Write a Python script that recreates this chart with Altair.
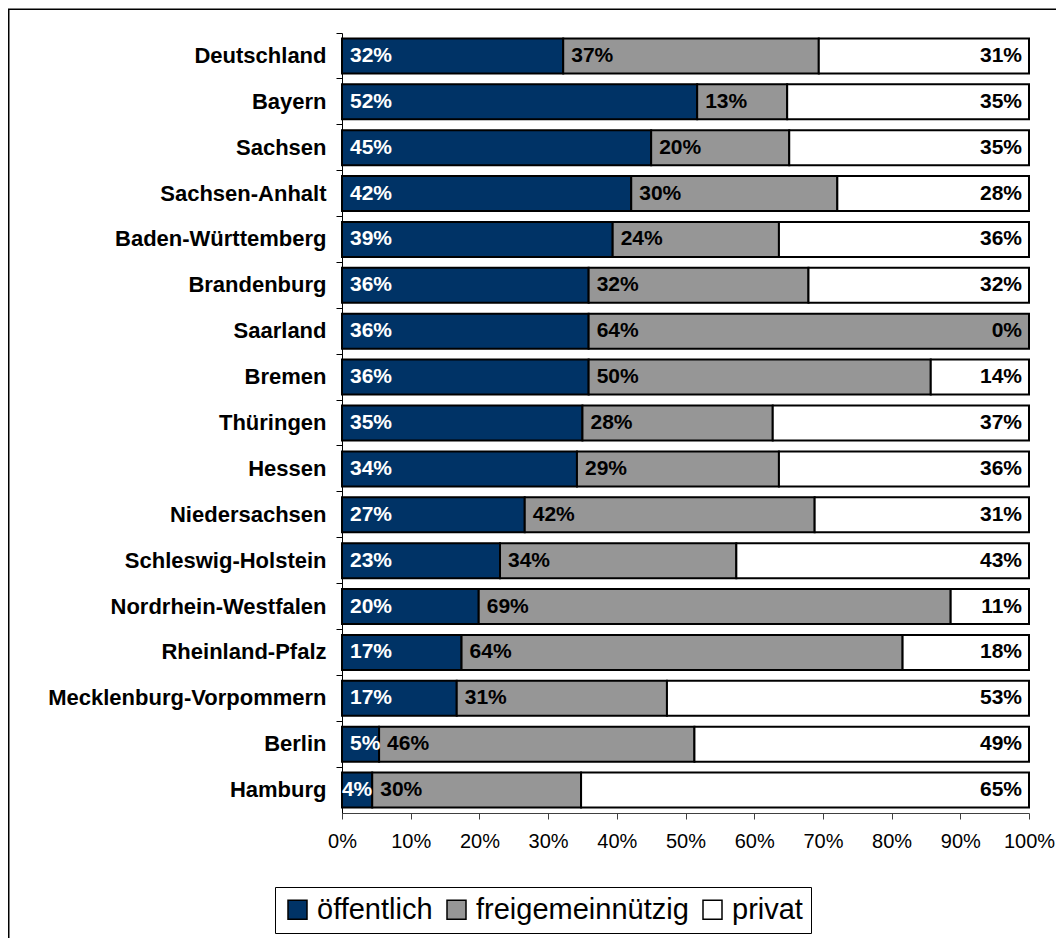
import altair as alt
import pandas as pd

laender = ["Deutschland", "Bayern", "Sachsen", "Sachsen-Anhalt", "Baden-Württemberg",
           "Brandenburg", "Saarland", "Bremen", "Thüringen", "Hessen", "Niedersachsen",
           "Schleswig-Holstein", "Nordrhein-Westfalen", "Rheinland-Pfalz",
           "Mecklenburg-Vorpommern", "Berlin", "Hamburg"]
oeffentlich = [32.2, 51.7, 45.0, 42.1, 39.4, 35.9, 35.9, 35.9, 35.0, 34.2, 26.6, 23.0, 19.9, 17.4, 16.7, 5.4, 4.4]
freigemeinnuetzig = [37.2, 13.1, 20.1, 30.0, 24.2, 32.0, 64.1, 49.8, 27.7, 29.4, 42.2, 34.4, 68.7, 64.2, 30.6, 45.9, 30.4]
privat = [30.6, 35.2, 34.9, 27.9, 36.4, 32.1, 0.0, 14.3, 37.3, 36.4, 31.2, 42.6, 11.4, 18.4, 52.7, 48.7, 65.2]
serien = ["öffentlich", "freigemeinnützig", "privat"]
farben = ["#003366", "#969696", "#ffffff"]
x_ticks = list(range(0, 101, 10))

rows = []
for i, land in enumerate(laender):
    for j, (s, vals) in enumerate(zip(serien, [oeffentlich, freigemeinnuetzig, privat])):
        rows.append({"land": land, "serie": s, "order": j, "wert": vals[i]})
df = pd.DataFrame(rows)

FONT = "Liberation Sans"

base = alt.Chart(df).transform_stack(
    stack="wert", groupby=["land"], as_=["start", "end"],
    sort=[alt.SortField("order", order="ascending")]
).transform_calculate(
    label="format(datum.wert, '.0f') + '%'",
    mid="(datum.start + datum.end) / 2"
)

y_enc = alt.Y("land:N", sort=laender, title=None,
              scale=alt.Scale(paddingInner=0, paddingOuter=0),
              axis=alt.Axis(bandPosition=0, tickSize=6, labelPadding=10, labelLimit=0,
                            labelFont=FONT, labelFontSize=22, labelFontWeight="bold",
                            labelColor="black", domainColor="black", tickColor="black",
                            domainWidth=1, tickWidth=1, grid=False))

x_scale = alt.Scale(domain=[0, 100], nice=False, zero=True)

bars = base.mark_bar(height=35, stroke="black", strokeWidth=2).encode(
    x=alt.X("start:Q", scale=x_scale, title=None,
            axis=alt.Axis(values=x_ticks, labelExpr="datum.value + '%'", grid=False,
                          tickSize=6, labelPadding=12, labelFont=FONT, labelFontSize=20,
                          labelColor="black", domainColor="#404040", tickColor="#404040",
                          domainWidth=1, tickWidth=1, labelFlush=False)),
    x2="end:Q",
    y=y_enc,
    color=alt.Color("serie:N", scale=alt.Scale(domain=serien, range=farben),
                    legend=alt.Legend(orient="none", legendX=-67, legendY=854,
                                      direction="horizontal", title=None, labelLimit=0,
                                      strokeColor="black", fillColor="white", padding=8,
                                      labelFont=FONT, labelFontSize=29, labelColor="black",
                                      symbolType="square", symbolSize=361,
                                      symbolStrokeColor="black", symbolStrokeWidth=1.5,
                                      symbolOpacity=1, columnPadding=9, labelOffset=5)),
)

txt_kw = dict(font=FONT, fontSize=21, fontWeight="bold", baseline="middle")

t_oe = base.transform_filter("datum.serie == 'öffentlich' && datum.wert >= 5").mark_text(
    align="left", dx=8, color="white", **txt_kw
).encode(x=alt.X("start:Q", title=None), y=y_enc, text="label:N")

t_oe_small = base.transform_filter("datum.serie == 'öffentlich' && datum.wert < 5").mark_text(
    align="center", color="white", **txt_kw
).encode(x=alt.X("mid:Q", title=None), y=y_enc, text="label:N")

t_fr = base.transform_filter("datum.serie == 'freigemeinnützig'").mark_text(
    align="left", dx=8, color="black", **txt_kw
).encode(x=alt.X("start:Q", title=None), y=y_enc, text="label:N")

t_pr = base.transform_filter("datum.serie == 'privat'").mark_text(
    align="right", dx=-7, color="black", **txt_kw
).encode(x=alt.X("end:Q", title=None), y=y_enc, text="label:N")

frame = alt.Chart(pd.DataFrame({"a": [0]})).mark_rect(
    fillOpacity=0, stroke="black", strokeWidth=1.5
).encode(x=alt.value(-333.25), x2=alt.value(1200), y=alt.value(-23.75), y2=alt.value(1200))

chart = alt.layer(frame, bars, t_oe, t_oe_small, t_fr, t_pr).properties(
    width=687, height=780,
    padding={"left": 334, "top": 25, "right": 27, "bottom": 125},
    autosize="none",
).configure_view(strokeWidth=0)

chart.save("out.html", embed_options={"renderer": "svg", "actions": False})
